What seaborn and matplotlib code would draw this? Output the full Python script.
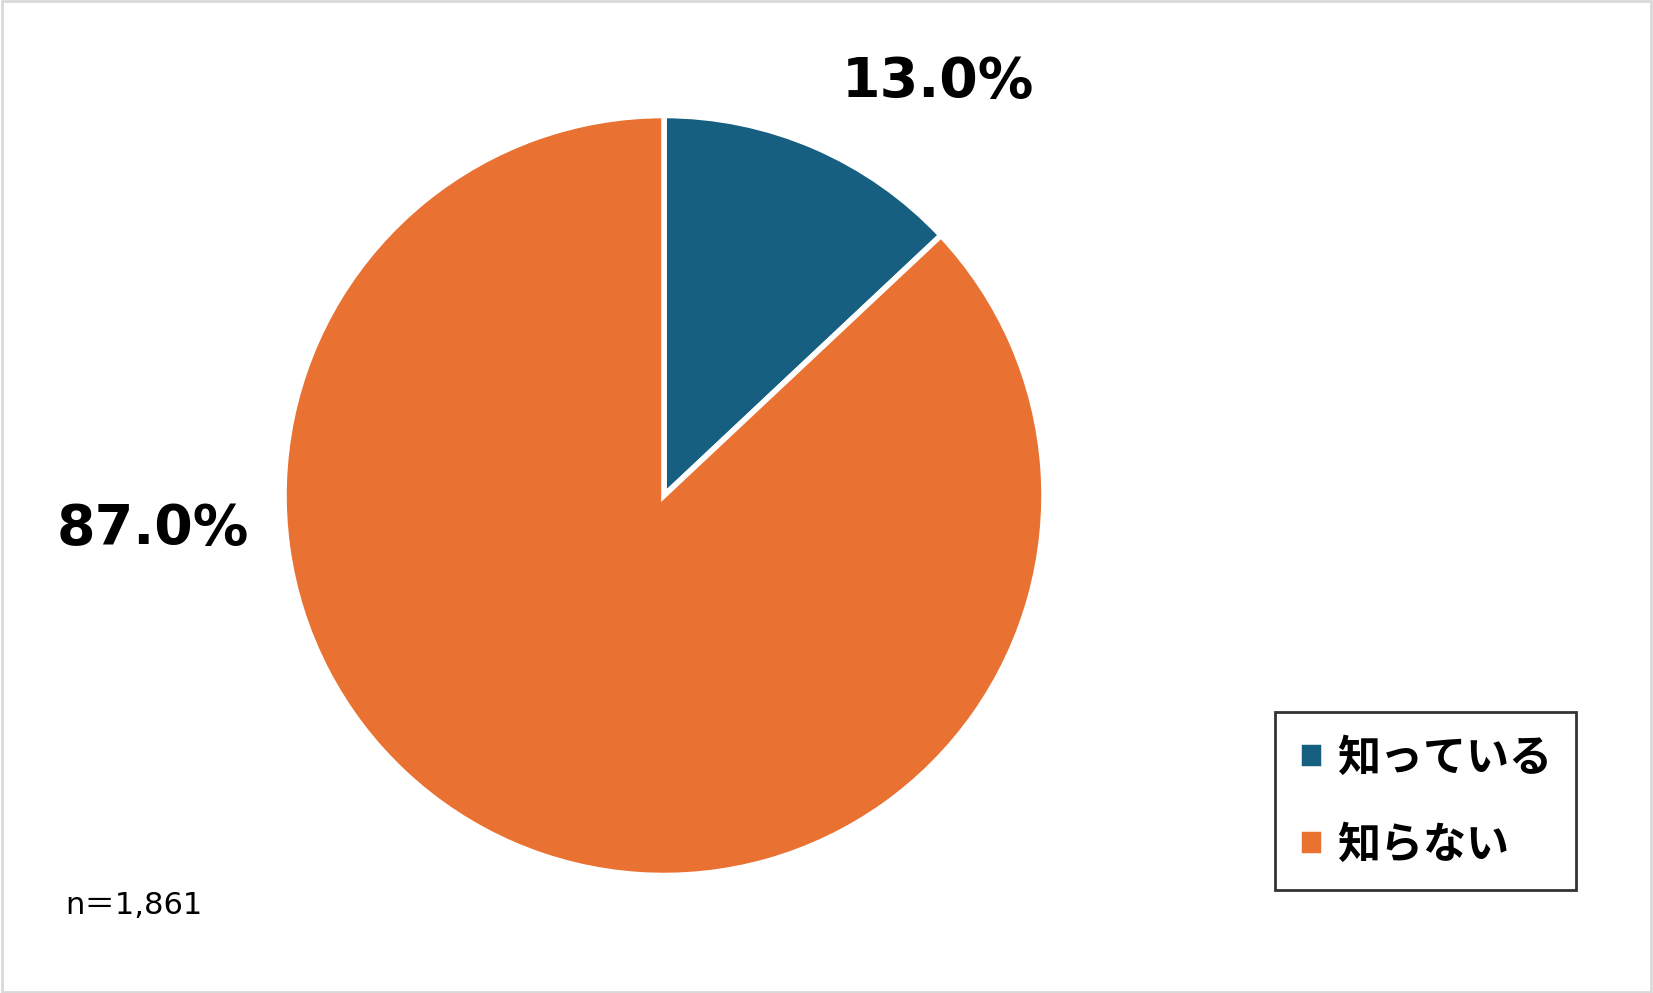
import matplotlib
matplotlib.use("Agg")
import matplotlib.pyplot as plt
import seaborn as sns
from matplotlib.patches import Rectangle

# データ
labels = ["知っている", "知らない"]
shares = [13.0, 87.0]
colors = ["#165F80", "#E97132"]
n_text = "n＝1,861"

W, H = 1653, 993
DPI = 100

sns.set_theme(style="white")
plt.rcParams['font.family'] = ['DejaVu Sans', 'Noto Sans CJK JP']
plt.rcParams['text.color'] = 'black'

fig = plt.figure(figsize=(W / DPI, H / DPI), dpi=DPI)
fig.patch.set_facecolor("white")

# 円の中心と半径（ピクセル）
cx, cy, r = 664, 495.5, 380
ax = fig.add_axes([(cx - r) / W, (H - cy - r) / H, 2 * r / W, 2 * r / H])

wedges, _ = ax.pie(shares, colors=colors, startangle=90, counterclock=False,
                   wedgeprops={'edgecolor': 'white', 'linewidth': 4})
ax.set_xlim(-1, 1)
ax.set_ylim(-1, 1)
ax.set_aspect("equal")
ax.axis("off")

# パーセント表示
label_pos = [(0.72, 1.088), (-1.345, -0.088)]
for (x, y), v in zip(label_pos, shares):
    ax.text(x, y, f"{v:.1f}%", ha="center", va="center", fontsize=40,
            fontweight="bold", color="black", clip_on=False)

leg = fig.legend(wedges, labels, loc="upper right",
                 bbox_to_anchor=(1576 / W, 1 - 712 / H),
                 prop={'family': ['Noto Sans CJK JP'], 'weight': 'bold', 'size': 31},
                 handlelength=0.6, handleheight=0.6, handletextpad=0.3,
                 labelspacing=1.0, borderpad=0.55, borderaxespad=0,
                 fancybox=False, frameon=True, edgecolor="black")
leg.get_frame().set_linewidth(2)
for t in leg.get_texts():
    t.set_color("black")

fig.text(65 / W, 1 - 905 / H, n_text, ha="left", va="center", fontsize=22,
         family=['DejaVu Sans', 'Noto Sans CJK JP'], color="black")

# 外枠
fig.patches.append(Rectangle((0.001, 0.001), 0.998, 0.998, transform=fig.transFigure,
                             fill=False, edgecolor="#D9D9D9", linewidth=2))

plt.savefig("out.png", dpi=DPI)
plt.close()
